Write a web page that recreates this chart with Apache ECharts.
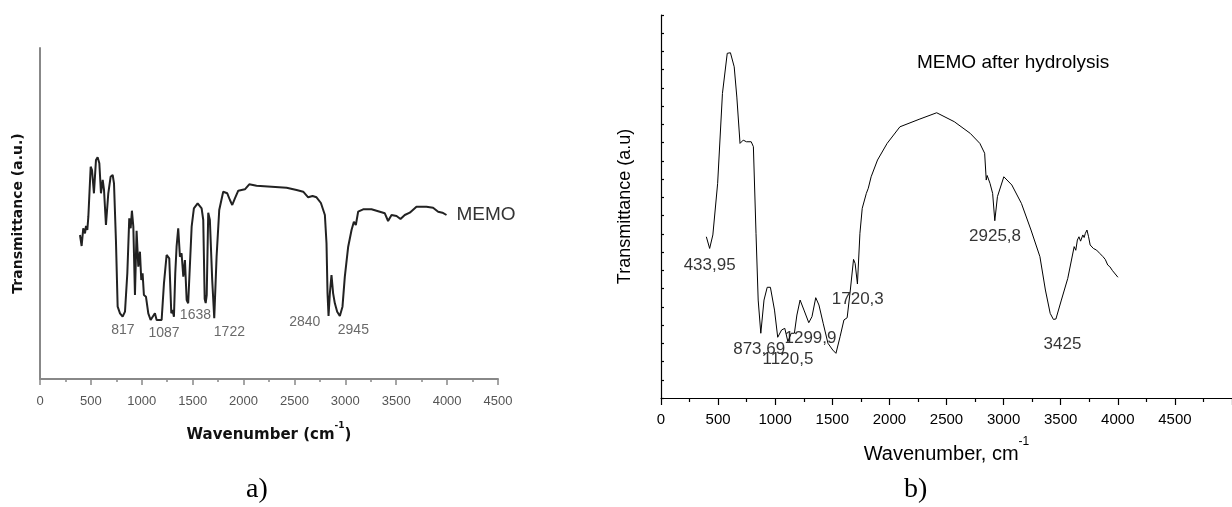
<!DOCTYPE html>
<html lang="en">
<head>
    <meta charset="UTF-8">
    <title>MEMO FTIR</title>
    <style type="text/css">
        html, body { margin: 0; padding: 0; background: #fff; }
        #main { width: 1232px; height: 507px; }
    </style>
</head>
<body>
<div id="main"></div>
<script type="text/javascript" src="https://cdn.jsdelivr.net/npm/echarts@6/dist/echarts.min.js"></script>
<script type="text/javascript">
    // a) MEMO spectrum (wavenumber, transmittance a.u.)
    var memoWn = [393, 409, 425, 442, 452, 465, 475, 484, 498, 511, 530, 550, 566, 583, 599, 616, 629, 648, 671, 694,
        714, 727, 746, 763, 786, 812, 835, 858, 877, 891, 903, 917, 933, 949, 966, 982, 995, 1008, 1021, 1041,
        1064, 1087, 1129, 1146, 1195, 1218, 1244, 1270, 1290, 1303, 1316, 1329, 1342, 1358, 1375, 1391, 1408, 1424, 1441, 1456,
        1490, 1512, 1549, 1588, 1604, 1618, 1628, 1638, 1653, 1669, 1692, 1712, 1735, 1761, 1800, 1840, 1866, 1889, 1915, 1948,
        2013, 2056, 2128, 2423, 2521, 2586, 2635, 2678, 2717, 2760, 2799, 2815, 2825, 2835, 2848, 2864, 2880, 2897, 2920, 2946,
        2972, 2995, 3028, 3061, 3084, 3103, 3126, 3175, 3257, 3339, 3388, 3420, 3454, 3503, 3542, 3584, 3633, 3699, 3797, 3862,
        3912, 3954, 3994];
    var memoT = [144, 133, 150.7, 145.7, 153, 149, 162.3, 164, 212.3, 209, 185.7, 219, 221.7, 215.7, 185.7, 199, 189, 154, 185.7, 202.3,
        204, 195.7, 139, 72.3, 65.7, 62.3, 67.3, 105.7, 160.7, 150.7, 168.3, 152.3, 84, 148.3, 112.3, 127.3, 99, 105.7, 84, 82.3,
        65.7, 59, 65.7, 59, 59, 95.7, 124, 120.7, 65.7, 69, 62.3, 105.7, 132.3, 150.7, 122.3, 125.7, 102.3, 119, 79, 75.7,
        152.3, 170.7, 175.7, 170.7, 159, 80, 76, 84, 166.3, 159, 99, 60.7, 122.3, 169, 187.3, 185.7, 179, 174, 180.7, 188.3,
        189.7, 194.7, 193.3, 191.3, 189, 187.3, 181.7, 183, 181.7, 176, 164, 135.7, 85.7, 63, 85.7, 104, 85.7, 75.7, 67.3, 63,
        72.3, 102.3, 132.3, 149, 157.3, 154, 167.3, 169.7, 169.7, 167.3, 165.7, 158, 164, 163, 160, 164, 166.3, 172.3, 172.3, 171.3,
        167.3, 166.3, 164];
    var memoPeaks = [[815, 49, '817'], [1218, 46, '1087'], [1527, 64, '1638'], [1861, 47, '1722'],
        [2602, 57, '2840'], [3079, 49, '2945']];

    // b) MEMO after hydrolysis
    var hydWn = [397, 426, 454, 496, 538, 580, 608, 641, 664, 692, 720, 748, 790, 809, 832, 851, 874, 902, 930, 958,
        994, 1022, 1056, 1084, 1111, 1140, 1168, 1190, 1218, 1252, 1294, 1322, 1355, 1383, 1420, 1462, 1504, 1532, 1568, 1602,
        1630, 1658, 1686, 1700, 1720, 1742, 1762, 1798, 1815, 1840, 1896, 1980, 2092, 2260, 2414, 2568, 2708, 2792, 2834, 2848,
        2856, 2870, 2881, 2904, 2923, 2946, 2960, 3002, 3072, 3156, 3240, 3318, 3366, 3408, 3436, 3458, 3506, 3562, 3618, 3632,
        3646, 3660, 3674, 3694, 3705, 3716, 3730, 3744, 3758, 3772, 3786, 3800, 3814, 3828, 3842, 3870, 3890, 3912, 3930, 3954,
        4001];
    var hydT = [8.84, 8.2, 8.94, 11.77, 16.7, 18.9, 18.93, 18.16, 16.5, 13.96, 14.14, 14.05, 14.05, 13.78, 9.03, 5.37, 3.55, 5.37, 6.07, 6.07,
        4.82, 3.33, 3.73, 3.82, 3.09, 3.55, 3.55, 4.55, 5.37, 4.82, 4.13, 4.46, 5.5, 5.1, 4.1, 3.0, 2.63, 2.45, 3.36, 4.28,
        4.4, 5.92, 7.6, 7.38, 6.25, 9.03, 10.4, 11.22, 11.5, 12.13, 13.05, 13.96, 14.87, 15.28, 15.64, 15.15, 14.51, 13.96, 13.42, 11.95,
        12.2, 12.2, 11.77, 11.22, 9.72, 11.04, 11.13, 12.13, 11.68, 10.67, 9.21, 7.75, 5.92, 4.64, 4.31, 4.33, 5.37, 6.56, 8.3, 8.1,
        8.66, 8.84, 8.6, 8.94, 8.8, 9.03, 9.21, 8.84, 8.39, 8.45, 8.2, 8.25, 8.11, 8.15, 7.93, 7.75, 7.6, 7.29, 7.2, 6.98,
        6.62];
    var hydPeaks = [[426, 7.29, '433,95'], [860, 2.69, '873,69'], [1112, 2.12, '1120,5'], [1309, 3.27, '1299,9'],
        [1723, 5.43, '1720,3'], [2925, 8.88, '2925,8'], [3516, 2.96, '3425']];

    function zip(a, b) {
        var out = [];
        for (var i = 0; i < a.length; i++) out.push([a[i], b[i]]);
        return out;
    }
    function plain(v) { return String(v); }

    var sans = 'Liberation Sans, Arial, sans-serif';
    var boldFont = 'DejaVu Sans, sans-serif';

    var myChart = echarts.init(document.getElementById('main'));
    var option = {
        animation: false,
        backgroundColor: '#fff',
        title: {
            text: 'MEMO after hydrolysis',
            left: 917,
            top: 53,
            padding: 0,
            textStyle: { fontFamily: sans, fontSize: 19, fontWeight: 'normal', color: '#000' }
        },
        grid: [
            { left: 40, top: 48, width: 458, height: 331 },
            { left: 661, top: 15, width: 595, height: 383 }
        ],
        xAxis: [{
            gridIndex: 0, type: 'value', min: 0, max: 4500, interval: 500,
            axisLine: { lineStyle: { color: '#888', width: 2 } },
            axisTick: { length: 6, lineStyle: { color: '#888', width: 1.5 } },
            minorTick: { show: true, splitNumber: 2, length: 3, lineStyle: { color: '#888', width: 1.5 } },
            splitLine: { show: false },
            axisLabel: { fontFamily: sans, fontSize: 13, color: '#555', margin: 16, formatter: plain },
            name: '{n|Wavenumber (cm}{s|-1}{n|)}',
            nameLocation: 'middle',
            nameGap: 42,
            nameTextStyle: {
                rich: {
                    n: { fontFamily: boldFont, fontWeight: 'bold', fontSize: 15, lineHeight: 22, verticalAlign: 'bottom', color: '#111' },
                    s: { fontFamily: boldFont, fontWeight: 'bold', fontSize: 9, verticalAlign: 'top', color: '#111' }
                }
            }
        }, {
            gridIndex: 1, type: 'value', min: 0, max: 5000, interval: 500,
            axisLine: { lineStyle: { color: '#000', width: 1.2 } },
            axisTick: { length: 7, lineStyle: { color: '#000', width: 1.2 } },
            minorTick: { show: true, splitNumber: 2, length: 4, lineStyle: { color: '#000', width: 1.2 } },
            splitLine: { show: false },
            axisLabel: { fontFamily: sans, fontSize: 15, color: '#000', margin: 14, showMaxLabel: false, formatter: plain },
            name: '{n|Wavenumber, cm}{s|-1}',
            nameLocation: 'middle',
            nameGap: 38,
            nameTextStyle: {
                rich: {
                    n: { fontFamily: sans, fontSize: 20, lineHeight: 28, verticalAlign: 'bottom', color: '#000' },
                    s: { fontFamily: sans, fontSize: 12, verticalAlign: 'top', color: '#000' }
                }
            }
        }],
        yAxis: [{
            gridIndex: 0, type: 'value', min: 0, max: 331,
            axisLine: { show: true, lineStyle: { color: '#888', width: 2 } },
            axisTick: { show: false },
            axisLabel: { show: false },
            splitLine: { show: false },
            name: 'Transmittance (a.u.)',
            nameLocation: 'middle',
            nameGap: 15,
            nameTextStyle: { fontFamily: boldFont, fontWeight: 'bold', fontSize: 14, color: '#111' }
        }, {
            gridIndex: 1, type: 'value', min: 0, max: 21, interval: 1,
            axisLine: { show: true, lineStyle: { color: '#000', width: 1.2 } },
            axisTick: { show: true, inside: true, length: 3, lineStyle: { color: '#000', width: 1.2 } },
            axisLabel: { show: false },
            splitLine: { show: false },
            name: 'Transmittance (a.u)',
            nameLocation: 'middle',
            nameGap: 27,
            nameTextStyle: { fontFamily: sans, fontSize: 18, color: '#000' }
        }],
        series: [{
            name: 'MEMO', type: 'line', xAxisIndex: 0, yAxisIndex: 0,
            data: zip(memoWn, memoT),
            showSymbol: false,
            lineStyle: { color: '#222', width: 2 },
            endLabel: {
                show: true, formatter: 'MEMO', distance: 10,
                fontFamily: sans, fontSize: 19, color: '#333'
            }
        }, {
            name: 'peaksA', type: 'scatter', xAxisIndex: 0, yAxisIndex: 0,
            data: memoPeaks,
            symbolSize: 1,
            itemStyle: { color: 'rgba(0,0,0,0)' },
            label: {
                show: true, position: 'inside',
                formatter: function (p) { return p.data[2]; },
                fontFamily: sans, fontSize: 14, color: '#444'
            }
        }, {
            name: 'MEMO after hydrolysis', type: 'line', xAxisIndex: 1, yAxisIndex: 1,
            data: zip(hydWn, hydT),
            showSymbol: false,
            lineStyle: { color: '#000', width: 1 }
        }, {
            name: 'peaksB', type: 'scatter', xAxisIndex: 1, yAxisIndex: 1,
            data: hydPeaks,
            symbolSize: 1,
            itemStyle: { color: 'rgba(0,0,0,0)' },
            label: {
                show: true, position: 'inside',
                formatter: function (p) { return p.data[2]; },
                fontFamily: sans, fontSize: 17, color: '#000'
            }
        }],
        graphic: [
            { type: 'text', left: 246, top: 476, style: { text: 'a)', font: '28px "Liberation Serif", serif', fill: '#000' } },
            { type: 'text', left: 904, top: 476, style: { text: 'b)', font: '28px "Liberation Serif", serif', fill: '#000' } }
        ]
    };
    myChart.setOption(option);
</script>
</body>
</html>
